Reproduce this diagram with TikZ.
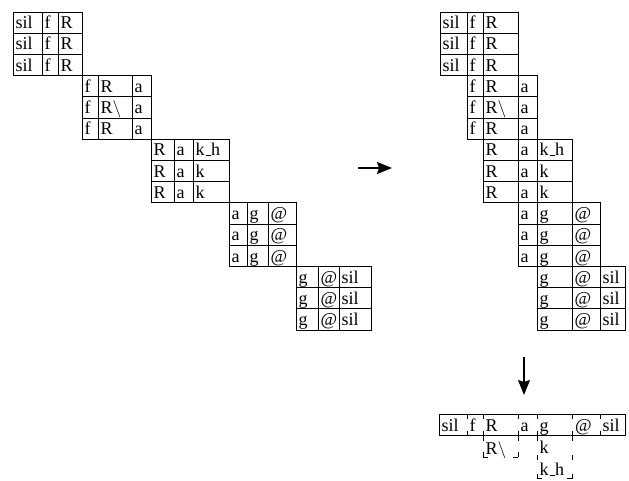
\documentclass[tikz,border=0pt]{standalone}
\usepackage{fontspec}
\setmainfont{Liberation Serif}
\usetikzlibrary{arrows.meta}
\newcommand\kh{k\kern.06em\vbox{\hrule width.3em height .6pt}h}
\newcommand\Rb{R$\backslash$}
% one row of three cells: #1 name, #2 top, #3..#6 x borders, #7..#9 texts
\newcommand\crow[9]{%
  \draw[grid] (#3,#2) rectangle (#6,#2+21.2) (#4,#2) -- (#4,#2+21.2) (#5,#2) -- (#5,#2+21.2);
  \node[txt] (#1a) at (#3+2.5,#2+16.8) {#7};
  \node[txt] (#1b) at (#4+2.5,#2+16.8) {#8};
  \node[txt] (#1c) at (#5+2.5,#2+16.8) {#9};
}
\begin{document}
\begin{tikzpicture}[x=1pt,y=-1pt,
  grid/.style={line width=0.8pt},
  txt/.style={anchor=base west, inner sep=0pt, font=\fontsize{18}{21}\selectfont},
  arr/.style={line width=1.5pt, -{Stealth[length=15pt,width=12pt,inset=2pt]}},
  dshort/.style={line width=0.8pt, dash pattern=on 5pt off 11.5pt},
  dlong/.style={line width=0.8pt, dash pattern=on 5pt off 14pt},
  dbot/.style={line width=0.8pt, dash pattern=on 5pt off 25pt}]
\useasboundingbox (0,0) rectangle (629,481);
% ---------- left staircase ----------
\crow{La1}{12}{13}{42}{58}{82}{sil}{f}{R}
\crow{La2}{12+21.2}{13}{42}{58}{82}{sil}{f}{R}
\crow{La3}{12+42.4}{13}{42}{58}{82}{sil}{f}{R}
\crow{Lb1}{75.6}{82}{98}{132}{151}{f}{R}{a}
\crow{Lb2}{75.6+21.2}{82}{98}{132}{151}{f}{\Rb}{a}
\crow{Lb3}{75.6+42.4}{82}{98}{132}{151}{f}{R}{a}
\crow{Lc1}{139.2}{151}{174}{193}{229}{R}{a}{\kh}
\crow{Lc2}{139.2+21.2}{151}{174}{193}{229}{R}{a}{k}
\crow{Lc3}{139.2+42.4}{151}{174}{193}{229}{R}{a}{k}
\crow{Ld1}{202.8}{229}{247}{268}{296}{a}{g}{@}
\crow{Ld2}{202.8+21.2}{229}{247}{268}{296}{a}{g}{@}
\crow{Ld3}{202.8+42.4}{229}{247}{268}{296}{a}{g}{@}
\crow{Le1}{266.4}{296}{318}{339}{371}{g}{@}{sil}
\crow{Le2}{266.4+21.2}{296}{318}{339}{371}{g}{@}{sil}
\crow{Le3}{266.4+42.4}{296}{318}{339}{371}{g}{@}{sil}
% ---------- right staircase (aligned columns) ----------
\crow{Ra1}{12}{440}{467}{483}{518}{sil}{f}{R}
\crow{Ra2}{12+21.2}{440}{467}{483}{518}{sil}{f}{R}
\crow{Ra3}{12+42.4}{440}{467}{483}{518}{sil}{f}{R}
\crow{Rb1}{75.6}{467}{483}{518}{537}{f}{R}{a}
\crow{Rb2}{75.6+21.2}{467}{483}{518}{537}{f}{\Rb}{a}
\crow{Rb3}{75.6+42.4}{467}{483}{518}{537}{f}{R}{a}
\crow{Rc1}{139.2}{483}{518}{537}{572}{R}{a}{\kh}
\crow{Rc2}{139.2+21.2}{483}{518}{537}{572}{R}{a}{k}
\crow{Rc3}{139.2+42.4}{483}{518}{537}{572}{R}{a}{k}
\crow{Rd1}{202.8}{518}{537}{572}{600}{a}{g}{@}
\crow{Rd2}{202.8+21.2}{518}{537}{572}{600}{a}{g}{@}
\crow{Rd3}{202.8+42.4}{518}{537}{572}{600}{a}{g}{@}
\crow{Re1}{266.4}{537}{572}{600}{625}{g}{@}{sil}
\crow{Re2}{266.4+21.2}{537}{572}{600}{625}{g}{@}{sil}
\crow{Re3}{266.4+42.4}{537}{572}{600}{625}{g}{@}{sil}
% ---------- merged row ----------
\draw[grid] (439,414) rectangle (625,435.5);
\foreach \x in {467,483,518,537,572,600} \draw[dshort] (\x,414) -- (\x,435.5);
\node[txt] (M1) at (441.5,431.2) {sil};
\node[txt] (M2) at (469.5,431.2) {f};
\node[txt] (M3) at (485.5,431.2) {R};
\node[txt] (M4) at (520.5,431.2) {a};
\node[txt] (M5) at (539.5,431.2) {g};
\node[txt] (M6) at (575,431.2) {@};
\node[txt] (M7) at (602.5,431.2) {sil};
% alternatives under R
\draw[dshort] (483,435.5) -- (483,457) (518,435.5) -- (518,457);
\draw[dbot] (483,457) -- (518,457);
\node[txt] (A1) at (485.5,454) {\Rb};
% alternatives under g
\draw[dlong] (537,435.5) -- (537,478.5) (572,435.5) -- (572,478.5);
\draw[dbot] (537,478.5) -- (572,478.5);
\node[txt] (B1) at (539.5,453.5) {k};
\node[txt] (B2) at (539.5,475.5) {\kh};
% ---------- arrows ----------
\coordinate (ra1) at (358,168);
\coordinate (ra2) at (392,168);
\draw[arr] (ra1) -- (ra2);
\coordinate (da1) at (524,357);
\coordinate (da2) at (524,395);
\draw[arr] (da1) -- (da2);
\end{tikzpicture}
\end{document}
